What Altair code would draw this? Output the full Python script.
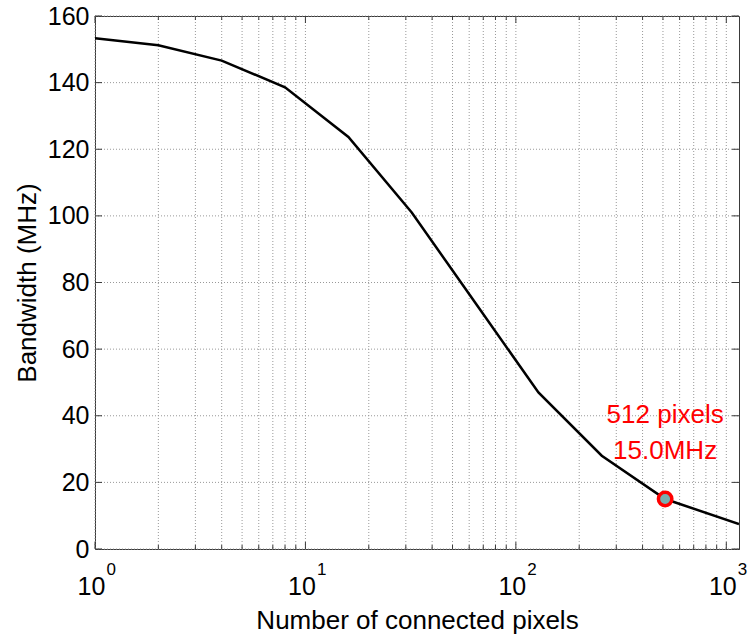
import altair as alt
import pandas as pd

pixels = [1, 2, 4, 8, 16, 32, 64, 128, 256, 512, 1149]
bandwidth = [153.3, 151.2, 146.6, 138.6, 123.7, 101.0, 74.0, 47.0, 28.0, 15.0, 7.5]

hl_pixels = [512]
hl_bw = [15.0]
hl_line1 = ["512 pixels"]
hl_line2 = ["15.0MHz"]

x_max = 1149
major_x = [1, 10, 100, 1000]
exponents = ["0", "1", "2", "3"]
minor_x = [m * d for d in (1, 10, 100) for m in range(2, 10)]
y_ticks = [0, 20, 40, 60, 80, 100, 120, 140, 160]

W, H = 644, 533
FONT = "Liberation Sans"

df = pd.DataFrame({"pixels": pixels, "bw": bandwidth})
hl = pd.DataFrame({"pixels": hl_pixels, "bw": hl_bw, "l1": hl_line1, "l2": hl_line2})
maj = pd.DataFrame({"x": major_x, "e": exponents})
allx = pd.DataFrame({"x": major_x + minor_x})
ydf = pd.DataFrame({"y": y_ticks})

xscale = alt.Scale(type="log", domain=[1, x_max], nice=False)
yscale = alt.Scale(domain=[0, 160], nice=False)

GRID = "#999999"
AX = "#3a3a3a"

grid_x = alt.Chart(allx).mark_rule(color=GRID, strokeDash=[1, 2], strokeWidth=1).encode(
    x=alt.X("x:Q", scale=xscale,
            axis=alt.Axis(values=major_x, labels=False, ticks=False, grid=False,
                          domainColor=AX, title="Number of connected pixels",
                          titleFont=FONT, titleFontSize=26, titleFontWeight="normal",
                          titleColor="black", titlePadding=58)),
    y=alt.value(0), y2=alt.value(H)
)

grid_y = alt.Chart(ydf).mark_rule(color=GRID, strokeDash=[1, 2], strokeWidth=1).encode(
    y=alt.Y("y:Q", scale=yscale,
            axis=alt.Axis(values=y_ticks, ticks=False, grid=False, domainColor=AX,
                          labelFont=FONT, labelFontSize=25, labelColor="black", labelPadding=6,
                          title="Bandwidth (MHz)", titleFont=FONT, titleFontSize=26,
                          titleFontWeight="normal", titleColor="black", titlePadding=7)),
    x=alt.value(0), x2=alt.value(W)
)

# inward ticks (MATLAB box style)
major_df = pd.DataFrame({"x": major_x})
minor_df = pd.DataFrame({"x": minor_x})
tick_bot_maj = alt.Chart(major_df).mark_rule(color=AX).encode(
    x=alt.X("x:Q", scale=xscale), y=alt.value(H), y2=alt.value(H - 7))
tick_top_maj = alt.Chart(major_df).mark_rule(color=AX).encode(
    x=alt.X("x:Q", scale=xscale), y=alt.value(0), y2=alt.value(7))
tick_bot_min = alt.Chart(minor_df).mark_rule(color=AX).encode(
    x=alt.X("x:Q", scale=xscale), y=alt.value(H), y2=alt.value(H - 4))
tick_top_min = alt.Chart(minor_df).mark_rule(color=AX).encode(
    x=alt.X("x:Q", scale=xscale), y=alt.value(0), y2=alt.value(4))
tick_left = alt.Chart(ydf).mark_rule(color=AX).encode(
    y=alt.Y("y:Q", scale=yscale), x=alt.value(0), x2=alt.value(7))
tick_right = alt.Chart(ydf).mark_rule(color=AX).encode(
    y=alt.Y("y:Q", scale=yscale), x=alt.value(W), x2=alt.value(W - 7))

line = alt.Chart(df).mark_line(color="black", strokeWidth=2.5, clip=True).encode(
    x=alt.X("pixels:Q", scale=xscale), y=alt.Y("bw:Q", scale=yscale))

point = alt.Chart(hl).mark_point(shape="circle", filled=True, fill="#78b0b0",
                                 stroke="red", strokeWidth=3.5, size=180, opacity=1).encode(
    x=alt.X("pixels:Q", scale=xscale), y=alt.Y("bw:Q", scale=yscale))

txt1 = alt.Chart(hl).mark_text(color="red", font=FONT, fontSize=26, align="center",
                               baseline="alphabetic", dy=-76).encode(
    x=alt.X("pixels:Q", scale=xscale), y=alt.Y("bw:Q", scale=yscale), text="l1:N")
txt2 = alt.Chart(hl).mark_text(color="red", font=FONT, fontSize=26, align="center",
                               baseline="alphabetic", dy=-40).encode(
    x=alt.X("pixels:Q", scale=xscale), y=alt.Y("bw:Q", scale=yscale), text="l2:N")

lab10 = alt.Chart(maj).mark_text(font=FONT, fontSize=25, color="black", align="center",
                                 baseline="alphabetic", dx=-3.5).encode(
    x=alt.X("x:Q", scale=xscale), y=alt.value(H + 46), text=alt.value("10"))
labexp = alt.Chart(maj).mark_text(font=FONT, fontSize=17, color="black", align="left",
                                  baseline="alphabetic", dx=11.5).encode(
    x=alt.X("x:Q", scale=xscale), y=alt.value(H + 26), text="e:N")

chart = alt.layer(
    grid_x, grid_y, tick_bot_maj, tick_top_maj, tick_bot_min, tick_top_min,
    tick_left, tick_right, line, point, txt1, txt2, lab10, labexp
).properties(
    width=W, height=H,
    autosize=alt.AutoSizeParams(type="none"),
    padding={"left": 95, "top": 16, "right": 10, "bottom": 88},
    background="white"
).configure_view(stroke=AX, strokeWidth=1)

chart.save("out.html", embed_options={"renderer": "svg", "actions": False})
